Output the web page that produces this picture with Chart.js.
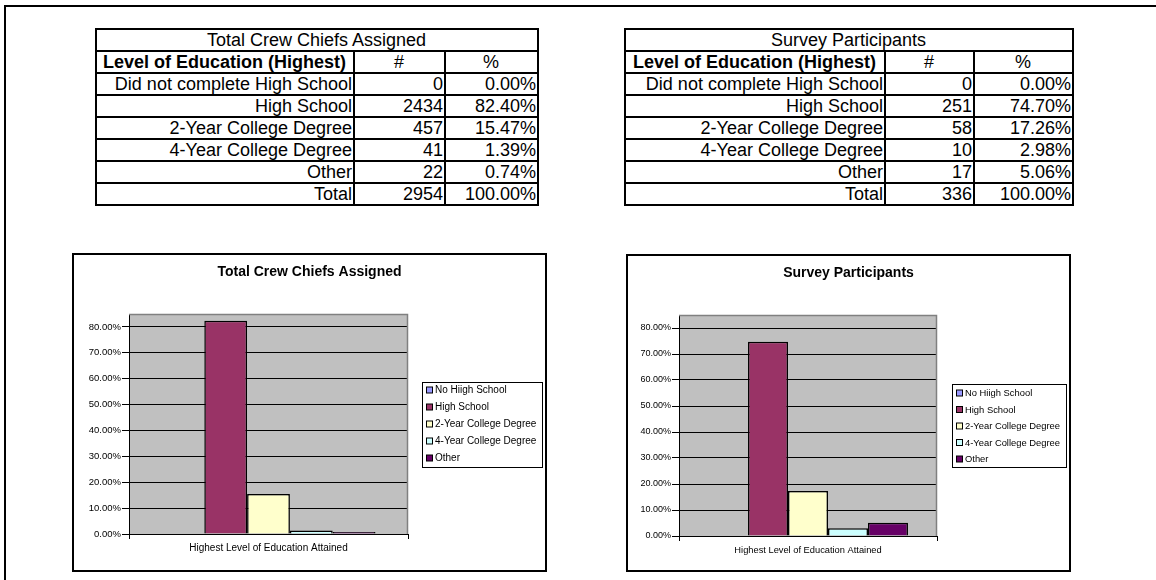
<!DOCTYPE html>
<html>
<head>
<meta charset="utf-8">
<script src="https://cdn.jsdelivr.net/npm/chart.js@4.4.0/dist/chart.umd.min.js"></script>
<style>
  body { margin: 0; width: 1156px; height: 580px; overflow: hidden; background: #fff; position: relative;
         font-family: "Liberation Sans", Arial, sans-serif; color: #000; }
  .page { position: absolute; left: 4px; top: 5px; width: 1220px; height: 700px; border: 2px solid #000; }
  table { position: absolute; top: 28px; border-collapse: collapse; font-size: 18px; table-layout: fixed; }
  td { border: 2px solid #000; height: 20px; line-height: 18px; padding: 0 1px 0 0; text-align: right; white-space: nowrap; overflow: hidden; }
  td.ttl { text-align: center; }
  td.hd { text-align: center; font-weight: bold; }
  td.c { text-align: center; }
  .frame { position: absolute; border: 2px solid #000; background: #fff; }
  canvas { display: block; }
</style>
</head>
<body>
<div class="page"></div>

<table id="t1" style="left:95px; width:442px;">
  <colgroup><col style="width:258px"><col style="width:91px"><col style="width:93px"></colgroup>
</table>
<table id="t2" style="left:624px; width:448px;">
  <colgroup><col style="width:260px"><col style="width:89px"><col style="width:99px"></colgroup>
</table>

<div class="frame" style="left:72px; top:253px; width:471px; height:315px;">
  <canvas id="c1" width="471" height="315"></canvas>
</div>
<div class="frame" style="left:626px; top:254px; width:441px; height:314px;">
  <canvas id="c2" width="441" height="314"></canvas>
</div>

<script>
// table rows
const levelNames = ["Did not complete High School", "High School", "2-Year College Degree", "4-Year College Degree", "Other"];
const crewCounts = [0, 2434, 457, 41, 22];
const crewPct = [0.00, 82.40, 15.47, 1.39, 0.74];
const crewTotal = 2954;
const surveyCounts = [0, 251, 58, 10, 17];
const surveyPct = [0.00, 74.70, 17.26, 2.98, 5.06];
const surveyTotal = 336;
const totalPct = 100.00;

// chart series (legend text as in the original, typo included)
const legendLabels = ["No Hiigh School", "High School", "2-Year College Degree", "4-Year College Degree", "Other"];
const categoryLabel = ["Highest Level of Education Attained"];
const yTicks = [0, 10, 20, 30, 40, 50, 60, 70, 80];
const barColors = ["#9999FF", "#993366", "#FFFFCC", "#CCFFFF", "#660066"];

const FONT = "'Liberation Sans', Arial, sans-serif";

function buildTable(id, title, counts, pcts, total) {
  const t = document.getElementById(id);
  let h = '<tr><td colspan="3" class="ttl">' + title + '</td></tr>';
  h += '<tr><td class="hd">Level of Education (Highest)</td><td class="c">#</td><td class="c">%</td></tr>';
  levelNames.forEach(function (n, i) {
    h += '<tr><td>' + n + '</td><td>' + counts[i] + '</td><td>' + pcts[i].toFixed(2) + '%</td></tr>';
  });
  h += '<tr><td>Total</td><td>' + total + '</td><td>' + totalPct.toFixed(2) + '%</td></tr>';
  t.insertAdjacentHTML("beforeend", h);
}

buildTable("t1", "Total Crew Chiefs Assigned", crewCounts, crewPct, crewTotal);
buildTable("t2", "Survey Participants", surveyCounts, surveyPct, surveyTotal);

// grey plot background + grey top/right border
const plotArea = {
  id: "plotArea",
  beforeDraw(chart) {
    const a = chart.chartArea, c = chart.ctx;
    c.save();
    c.fillStyle = "#C0C0C0";
    c.fillRect(a.left, a.top, a.right - a.left, a.bottom - a.top);
    c.restore();
  },
  afterDraw(chart) {
    const a = chart.chartArea, c = chart.ctx;
    c.save();
    c.strokeStyle = "#808080";
    c.lineWidth = 1.5;
    c.beginPath();
    c.moveTo(a.left, a.top + 0.5);
    c.lineTo(a.right - 0.5, a.top + 0.5);
    c.lineTo(a.right - 0.5, a.bottom);
    c.stroke();
    c.restore();
  }
};

// boxed legend to the right of the plot
const boxLegend = {
  id: "boxLegend",
  afterDraw(chart, args, o) {
    const c = chart.ctx;
    const x = chart.chartArea.right + o.gap, y = o.top;
    c.save();
    c.font = o.size + "px " + FONT;
    c.fillStyle = "#fff";
    c.fillRect(x, y, o.width, o.height);
    c.strokeStyle = "#000";
    c.lineWidth = 1;
    c.strokeRect(x + 0.5, y + 0.5, o.width, o.height);
    chart.data.datasets.forEach(function (ds, i) {
      const cy = y + o.first + o.step * i;
      c.fillStyle = ds.backgroundColor;
      c.fillRect(x + 4.5, cy - 3, 6, 6);
      c.strokeStyle = "#000";
      c.strokeRect(x + 4.5, cy - 3, 6, 6);
      c.fillStyle = "#000";
      c.textBaseline = "middle";
      c.fillText(ds.label, x + 13, cy + 0.5);
    });
    c.restore();
  }
};

function makeChart(id, title, pct, g) {
  return new Chart(document.getElementById(id), {
    type: "bar",
    data: {
      labels: categoryLabel,
      datasets: legendLabels.map(function (lab, i) {
        return {
          label: lab,
          data: [pct[i]],
          backgroundColor: barColors[i],
          borderColor: "#000",
          borderWidth: 1.5,
          categoryPercentage: g.catPct,
          barPercentage: 1
        };
      })
    },
    options: {
      responsive: false,
      animation: false,
      layout: { padding: 0 },
      plugins: {
        legend: { display: false },
        tooltip: { enabled: false },
        title: {
          display: true, text: title, color: "#000",
          font: { family: FONT, size: 14, weight: "bold", lineHeight: 1.2 },
          padding: { top: g.titleTop, bottom: 59 - 16.8 - g.titleTop }
        },
        boxLegend: g.legend
      },
      scales: {
        x: {
          offset: true,
          grid: { offset: true, drawOnChartArea: false, drawTicks: true, tickLength: 5, color: "#000" },
          border: { color: "#000", width: 1 },
          ticks: { color: "#000", font: { family: FONT, size: g.xFont }, padding: 3.5, maxRotation: 0 },
          afterFit: function (s) { s.height = g.xHeight; }
        },
        y: {
          min: 0, max: 85,
          afterBuildTicks: function (s) { s.ticks = yTicks.map(function (v) { return { value: v }; }); },
          grid: { color: "#000", tickLength: 7, lineWidth: 1 },
          border: { color: "#000", width: 1 },
          ticks: {
            color: "#000", padding: 1,
            font: { family: FONT, size: g.yFont },
            callback: function (v) { return Number(v).toFixed(2) + "%"; }
          },
          afterFit: function (s) { s.width = g.yWidth; }
        },
        // empty right-hand strip that keeps room for the legend box
        legendSpace: {
          type: "linear", position: "right", min: 0, max: 85,
          grid: { display: false, drawTicks: false },
          border: { display: false },
          ticks: { display: false },
          afterFit: function (s) { s.width = g.padRight; }
        }
      }
    },
    plugins: [plotArea, boxLegend]
  });
}

makeChart("c1", "Total Crew Chiefs Assigned", crewPct, {
  catPct: 0.767, padRight: 137, yWidth: 55, xHeight: 36, xFont: 10, yFont: 9.5, titleTop: 8.6,
  legend: { gap: 14, top: 127, width: 120, height: 85, first: 8, step: 17, size: 10 }
});
makeChart("c2", "Survey Participants", surveyPct, {
  catPct: 0.775, padRight: 132, yWidth: 51, xHeight: 34, xFont: 9.3, yFont: 9, titleTop: 8.6,
  legend: { gap: 15, top: 128, width: 114, height: 83, first: 9, step: 16.5, size: 9.4 }
});
</script>
</body>
</html>
